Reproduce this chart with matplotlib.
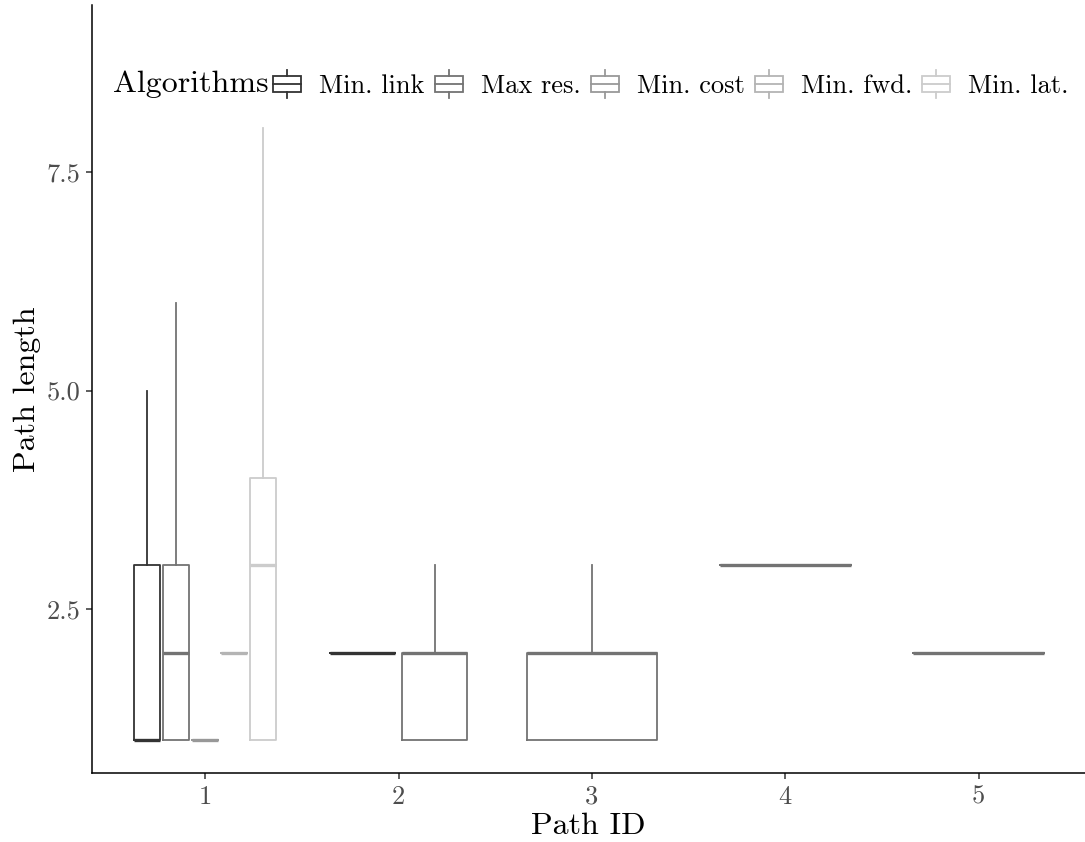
import matplotlib
matplotlib.use('Agg')
import matplotlib.pyplot as plt
from matplotlib.patches import Patch, Rectangle
from matplotlib.lines import Line2D
from matplotlib.legend_handler import HandlerBase

plt.rcParams['font.family'] = ['cmr10', 'DejaVu Serif']
plt.rcParams['axes.formatter.use_mathtext'] = True
plt.rcParams['axes.unicode_minus'] = False

algorithms = ['Min. link', 'Max res.', 'Min. cost', 'Min. fwd.', 'Min. lat.']
algo_colors = ['#333333', '#737373', '#989898', '#B4B4B4', '#CCCCCC']

# one entry per box: path id, algorithm, and the five box statistics
box_path = [1, 1, 1, 1, 1, 2, 2, 3, 4, 5]
box_algo = ['Min. link', 'Max res.', 'Min. cost', 'Min. fwd.', 'Min. lat.',
            'Min. link', 'Max res.', 'Max res.', 'Max res.', 'Max res.']
whis_lo = [1, 1, 1, 2, 1, 2, 1, 1, 3, 2]
q1 = [1, 1, 1, 2, 1, 2, 1, 1, 3, 2]
median = [1, 2, 1, 2, 3, 2, 2, 2, 3, 2]
q3 = [3, 3, 1, 2, 4, 2, 2, 2, 3, 2]
whis_hi = [5, 6, 1, 2, 8, 2, 3, 3, 3, 2]

path_ticks = [1, 2, 3, 4, 5]
y_ticks = [2.5, 5.0, 7.5]


class BoxKey(HandlerBase):
    def create_artists(self, legend, orig_handle, xdescent, ydescent,
                       width, height, fontsize, trans):
        c = orig_handle.get_edgecolor()
        x0 = -xdescent
        y0 = -ydescent
        xm = x0 + width / 2
        box = Rectangle((x0, y0 + 0.2 * height), width, 0.6 * height,
                        fill=False, ec=c, lw=1.3, transform=trans)
        med = Line2D([x0, x0 + width], [y0 + 0.5 * height] * 2, color=c, lw=1.3, transform=trans)
        w1 = Line2D([xm, xm], [y0, y0 + 0.2 * height], color=c, lw=1.3, transform=trans)
        w2 = Line2D([xm, xm], [y0 + 0.8 * height, y0 + height], color=c, lw=1.3, transform=trans)
        return [box, med, w1, w2]


fig = plt.figure(figsize=(10.85, 8.42), dpi=100)
ax = fig.add_axes([92 / 1085, 1 - 773 / 842, 1 - 92 / 1085, (773 - 5) / 842])

# dodge boxes within each path id, like ggplot position_dodge
dodge_total = 0.75
for i in range(len(box_path)):
    same = [j for j in range(len(box_path)) if box_path[j] == box_path[i]]
    n = len(same)
    k = same.index(i)
    slot = dodge_total / n
    pos = box_path[i] - dodge_total / 2 + slot * (k + 0.5)
    c = algo_colors[algorithms.index(box_algo[i])]
    stats = [dict(whislo=whis_lo[i], q1=q1[i], med=median[i], q3=q3[i], whishi=whis_hi[i], fliers=[])]
    ax.bxp(stats, positions=[pos], widths=slot * 0.9, showcaps=False, showfliers=False,
           boxprops=dict(color=c, lw=1.3),
           whiskerprops=dict(color=c, lw=1.3),
           medianprops=dict(color=c, lw=2.4, solid_capstyle='butt'),
           manage_ticks=False)

ax.set_xlim(0.415, 5.55)
ax.set_ylim(0.625, 9.41)
ax.set_xticks(path_ticks)
ax.set_xticklabels([str(p) for p in path_ticks])
ax.set_yticks(y_ticks)
ax.set_yticklabels(['%.1f' % v for v in y_ticks])
ax.tick_params(length=4.5, width=1.1, colors='#333333', labelcolor='#4D4D4D', labelsize=19, pad=4)
for s in ['top', 'right']:
    ax.spines[s].set_visible(False)
for s in ['left', 'bottom']:
    ax.spines[s].set_linewidth(1.1)
    ax.spines[s].set_color('black')

ax.set_xlabel('Path ID', fontsize=23, labelpad=3)
ax.set_ylabel('Path length', fontsize=23, labelpad=4)

fig.text(113 / 1085, 1 - 84 / 842, 'Algorithms', fontsize=23, va='center', ha='left')
handles = [Patch(edgecolor=c, facecolor='none') for c in algo_colors]
fig.legend(handles, algorithms, handler_map={Patch: BoxKey()}, ncol=5, frameon=False,
           loc='center left', bbox_to_anchor=(273 / 1085, 1 - 84 / 842),
           fontsize=19, handlelength=1.07, handleheight=1.22, handletextpad=0.68,
           columnspacing=0.38, borderpad=0, borderaxespad=0)

fig.savefig('out.png', dpi=100)
